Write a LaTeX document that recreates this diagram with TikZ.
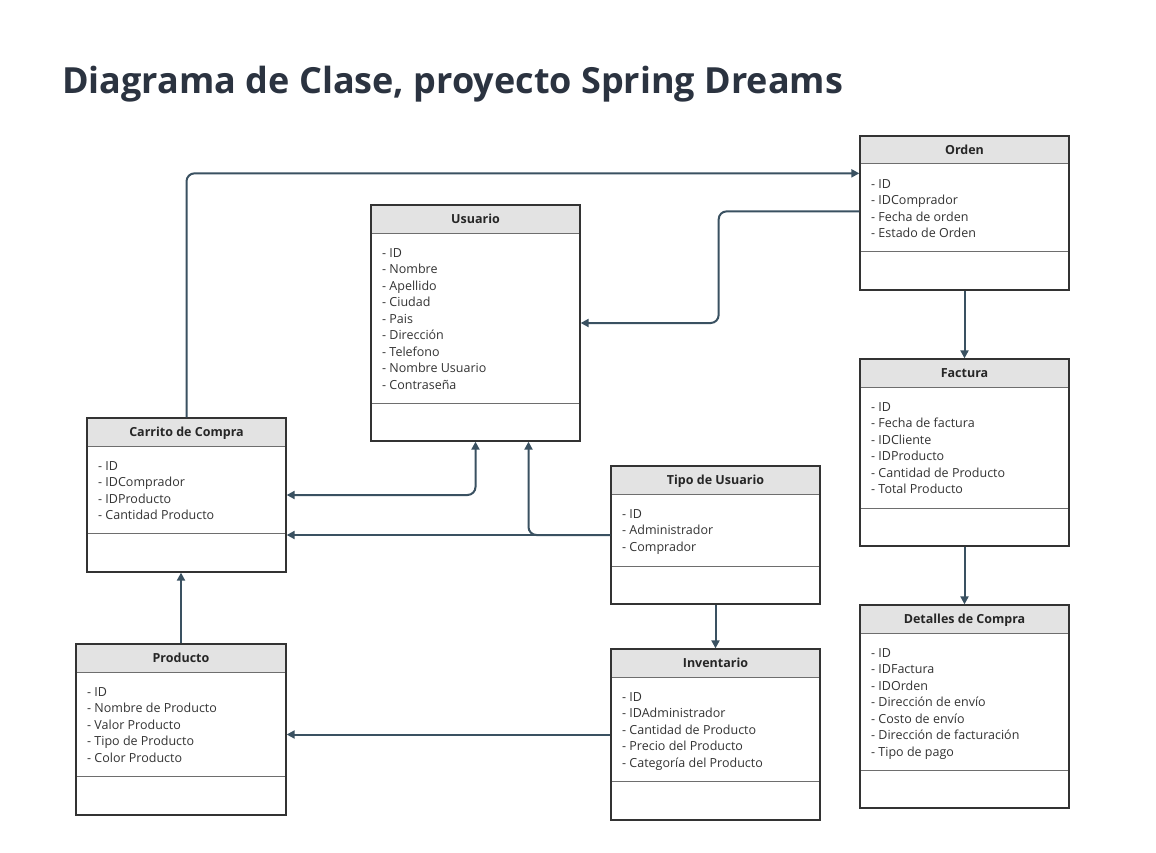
\documentclass[tikz,border=0pt]{standalone}
\usepackage{fontspec}
\setmainfont{Open Sans}
\usetikzlibrary{arrows.meta,fit,calc}
\definecolor{conncol}{HTML}{3A5161}
\definecolor{titlecol}{HTML}{2B3340}
\definecolor{headfill}{HTML}{E3E3E3}
\definecolor{framecol}{HTML}{333333}
\definecolor{divcol}{HTML}{6E6E6E}
\tikzset{
  frame/.style={draw=framecol, line width=1.3pt, inner sep=0pt},
  divline/.style={draw=divcol, line width=1pt},
  headtext/.style={font=\bfseries\fontsize{12.5}{14}\selectfont, text=black!85, inner sep=0pt, anchor=base},
  attrtext/.style={font=\fontsize{12.5}{14}\selectfont, text=black!80, inner sep=0pt, anchor=base west},
  conn/.style={draw=conncol, line width=2pt, -{Triangle[length=8pt,width=8pt]}, rounded corners=8pt},
  conntwo/.style={draw=conncol, line width=2pt, {Triangle[length=8pt,width=8pt]}-{Triangle[length=8pt,width=8pt]}, rounded corners=8pt},
  titletext/.style={font=\bfseries\fontsize{36}{40}\selectfont, text=titlecol, inner sep=0pt, anchor=base west},
}
% #1 name, #2 x1, #3 y1, #4 x2, #5 y2, #6 header bottom, #7 divider, #8 title, #9 attributes
\newcommand\umlclass[9]{%
  \fill[headfill] (#2,#3) rectangle (#4,#6);
  \draw[divline] (#2,#6) -- (#4,#6);
  \draw[divline] (#2,#7) -- (#4,#7);
  \node[frame, fit={(#2,#3) (#4,#5)}] (#1) {};
  \node[headtext] (#1-title) at ({(#2+#4)/2},{(#3+#6)/2+4.5}) {#8};
  \foreach \a [count=\i] in {#9} {
    \node[attrtext] (#1-a\i) at ({#2+11},{#6+24.2+16.5*(\i-1)}) {\a};
  }
}
\begin{document}
\begin{tikzpicture}[x=1pt,y=-1pt]
\fill[white] (0,0) rectangle (1156,853);
\useasboundingbox (0,0) rectangle (1156,853);

\node[titletext] (title) at (62,94) {Diagrama de Clase, proyecto Spring Dreams};

\umlclass{orden}{860}{136}{1069}{290}{164}{251}{Orden}{- ID, - IDComprador, - Fecha de orden, - Estado de Orden}
\umlclass{usuario}{371}{205}{580}{441}{233}{403}{Usuario}{- ID, - Nombre, - Apellido, - Ciudad, - Pais, - Dirección, - Telefono, - Nombre Usuario, - Contraseña}
\umlclass{carrito}{87}{418}{286}{572}{446}{533}{Carrito de Compra}{- ID, - IDComprador, - IDProducto, - Cantidad Producto}
\umlclass{tipo}{611}{466}{820}{604}{494}{566}{Tipo de Usuario}{- ID, - Administrador, - Comprador}
\umlclass{producto}{76}{644}{286}{815}{672}{776}{Producto}{- ID, - Nombre de Producto, - Valor Producto, - Tipo de Producto, - Color Producto}
\umlclass{inventario}{611}{649}{820}{820}{677}{781}{Inventario}{- ID, - IDAdministrador, - Cantidad de Producto, - Precio del Producto, - Categoría del Producto}
\umlclass{factura}{860}{359}{1069}{546}{387}{508}{Factura}{- ID, - Fecha de factura, - IDCliente, - IDProducto, - Cantidad de Producto, - Total Producto}
\umlclass{detalles}{860}{605}{1069}{808}{633}{770}{Detalles de Compra}{- ID, - IDFactura, - IDOrden, - Dirección de envío, - Costo de envío, - Dirección de facturación, - Tipo de pago}

% connectors
\draw[conn] (carrito.north) |- ($(orden.north west)+(0,38)$);
\draw[conn] ($(orden.north west)+(0,76)$) -| ($(usuario.east)+(138,0)$) -- (usuario.east);
\draw[conn] (orden.south) -- (factura.north);
\draw[conn] (factura.south) -- (detalles.north);
\draw[conntwo] (usuario.south) |- (carrito.east);
\draw[conn] (tipo.west) -- (carrito.east |- tipo.west);
\draw[conn] (tipo.west) -| ($(usuario.south)+(53,0)$);
\draw[conn] (tipo.south) -- (inventario.north);
\draw[conn] (producto.north) -- (carrito.south -| producto.north);
\draw[conn] (inventario.west) -- (producto.east |- inventario.west);
\end{tikzpicture}
\end{document}
